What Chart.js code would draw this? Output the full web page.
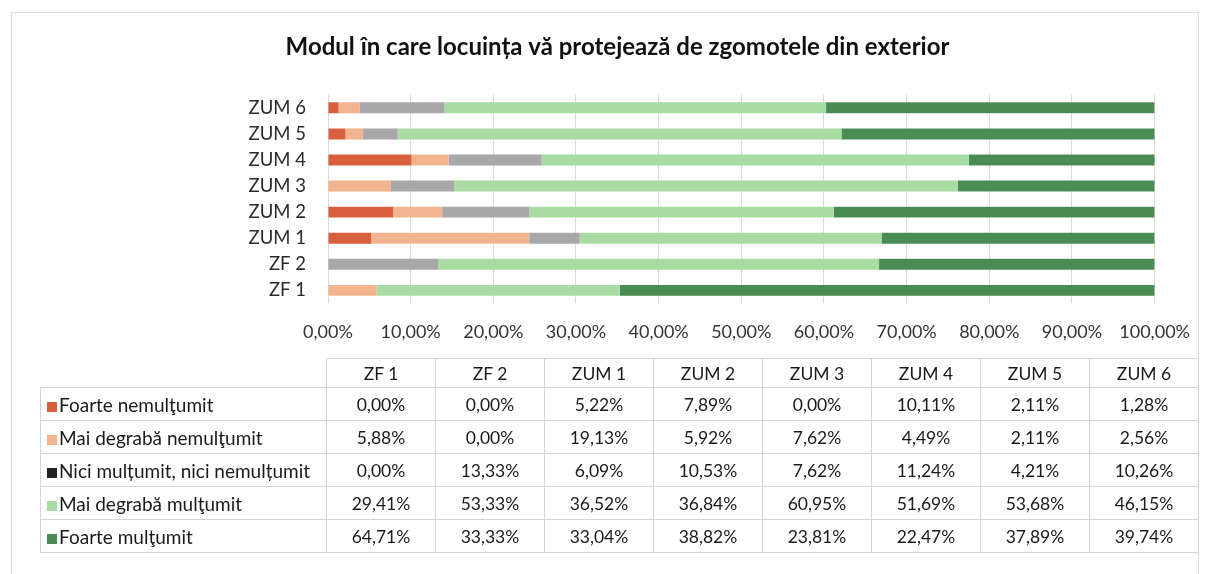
<!DOCTYPE html>
<html>
<head>
<meta charset="utf-8">
<script src="https://cdn.jsdelivr.net/npm/chart.js@4.4.1/dist/chart.umd.min.js"></script>
<style>
  html, body { margin: 0; padding: 0; background: #fff; }
  #wrap { position: relative; width: 1208px; height: 574px; overflow: hidden; font-family: Lato, "Noto Sans", sans-serif; }
  #frame { position: absolute; left: 11px; top: 12px; width: 1188px; height: 580px; border: 1px solid #dcdcdc; box-sizing: border-box; }
  #c { position: absolute; left: 0; top: 0; }
  #tbl { position: absolute; left: 40px; top: 358px; border-collapse: collapse; color: #1a1a1a; }
  #tbl td { border: 1px solid #d4d4d4; height: 32px; padding: 0; font-size: 17.5px; text-align: center; width: 108px; }
  #tbl tr.head td { height: 28px; }
  #tbl td.lab { width: 279px; text-align: left; padding-left: 6px; font-size: 19px; white-space: nowrap; }
  #tbl td.blank { border: none; }
  .mk { display: inline-block; width: 10px; height: 10px; margin-right: 2px; vertical-align: 0px; }
</style>
</head>
<body>
<div id="wrap">
  <div id="frame"></div>
  <canvas id="c" width="1208" height="363"></canvas>
  <table id="tbl"></table>
</div>
<script>
const categories = ['ZF 1', 'ZF 2', 'ZUM 1', 'ZUM 2', 'ZUM 3', 'ZUM 4', 'ZUM 5', 'ZUM 6'];
const seriesNames = ['Foarte nemulţumit', 'Mai degrabă nemulţumit', 'Nici mulțumit, nici nemulțumit', 'Mai degrabă mulţumit', 'Foarte mulţumit'];
const foarteNemultumit = [0.00, 0.00, 5.22, 7.89, 0.00, 10.11, 2.11, 1.28];
const maiDegrabaNemultumit = [5.88, 0.00, 19.13, 5.92, 7.62, 4.49, 2.11, 2.56];
const niciNici = [0.00, 13.33, 6.09, 10.53, 7.62, 11.24, 4.21, 10.26];
const maiDegrabaMultumit = [29.41, 53.33, 36.52, 36.84, 60.95, 51.69, 53.68, 46.15];
const foarteMultumit = [64.71, 33.33, 33.04, 38.82, 23.81, 22.47, 37.89, 39.74];
const xTicks = [0, 10, 20, 30, 40, 50, 60, 70, 80, 90, 100];
const title = 'Modul în care locuința vă protejează de zgomotele din exterior';

const barColors = ['#d8603f', '#f2b48f', '#a8a8a8', '#a9dca2', '#4b8b54'];
const legendColors = ['#d8603f', '#f2b48f', '#222222', '#a9dca2', '#4b8b54'];
const seriesValues = [foarteNemultumit, maiDegrabaNemultumit, niciNici, maiDegrabaMultumit, foarteMultumit];

const fmt = v => v.toFixed(2).replace('.', ',') + '%';

new Chart(document.getElementById('c'), {
  type: 'bar',
  data: {
    labels: categories,
    datasets: seriesValues.map((vals, i) => ({
      label: seriesNames[i],
      data: vals,
      backgroundColor: barColors[i],
      borderWidth: 0,
      categoryPercentage: 1,
      barPercentage: 0.42
    }))
  },
  options: {
    indexAxis: 'y',
    responsive: false,
    animation: false,
    layout: { padding: { left: 78, right: 51, top: 33, bottom: 2 } },
    plugins: {
      legend: { display: false },
      tooltip: { enabled: false },
      title: {
        display: true,
        text: title,
        color: '#111',
        font: { family: 'Lato', size: 24, weight: 'bold' },
        padding: { top: 0, bottom: 33 }
      }
    },
    scales: {
      x: {
        stacked: true,
        min: 0, max: 100,
        afterBuildTicks: s => { s.ticks = xTicks.map(v => ({ value: v })); },
        ticks: {
          callback: v => fmt(v),
          color: '#333',
          font: { family: 'Lato', size: 18 },
          padding: 18,
          maxRotation: 0
        },
        grid: { color: '#d9d9d9', drawTicks: false },
        border: { display: false }
      },
      y: {
        stacked: true,
        reverse: true,
        afterFit: s => { s.width = 250; },
        ticks: {
          autoSkip: false,
          color: '#2a2a2a',
          font: { family: 'Lato', size: 18.5 },
          padding: 14
        },
        grid: { display: false },
        border: { display: false }
      }
    }
  }
});

// data table below the chart
const tbl = document.getElementById('tbl');
let html = '<tr class="head"><td class="lab blank"></td>' + categories.map(c => '<td>' + c + '</td>').join('') + '</tr>';
seriesNames.forEach((name, i) => {
  html += '<tr><td class="lab"><span class="mk" style="background:' + legendColors[i] + '"></span>' + name + '</td>' +
    seriesValues[i].map(v => '<td>' + fmt(v) + '</td>').join('') + '</tr>';
});
tbl.innerHTML = html;
</script>
</body>
</html>
